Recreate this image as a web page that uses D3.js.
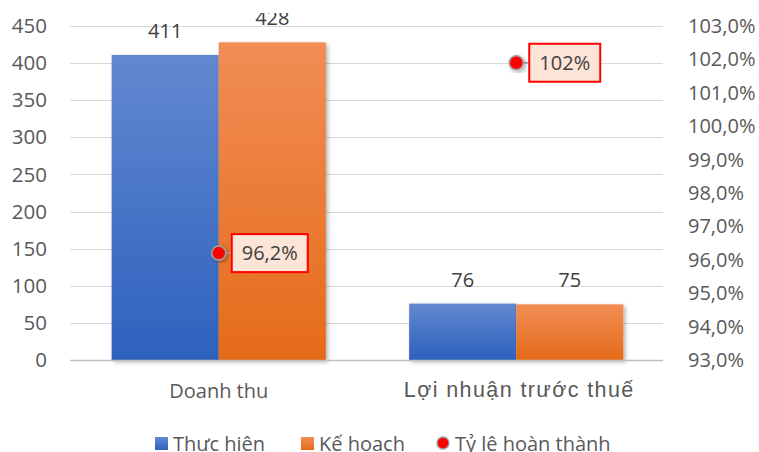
<!DOCTYPE html>
<html>
<head>
<meta charset="utf-8">
<script src="https://cdn.jsdelivr.net/npm/d3@7"></script>
<style>
  html, body { margin: 0; padding: 0; background: #fff; }
  svg { display: block; }
</style>
</head>
<body>
<svg id="chart" width="759" height="452"></svg>
<script>
// ---- data ----
const categories = ["Doanh thu", "Lợi nhuận trước thuế"];
const seriesNames = ["Thực hiện", "Kế hoạch"];
const thucHien = [411, 76];
const keHoach = [428, 75];
const tyLe = [96.2, 101.9];
const tyLeLabels = ["96,2%", "102%"];
const leftTicks = [0, 50, 100, 150, 200, 250, 300, 350, 400, 450];
const rightTicks = [93, 94, 95, 96, 97, 98, 99, 100, 101, 102, 103];
const lineName = "Tỷ lệ hoàn thành";

const svg = d3.select("#chart");
const W = 759, H = 452;
const plot = { left: 70, right: 665, top: 26, bottom: 360 };
const textColor = "#595959";
const font = "'Open Sans', 'Noto Sans', sans-serif";

const defs = svg.append("defs");
function grad(id, c1, c2) {
  const g = defs.append("linearGradient").attr("id", id)
    .attr("x1", 0).attr("y1", 0).attr("x2", 0).attr("y2", 1);
  g.append("stop").attr("offset", "0%").attr("stop-color", c1);
  g.append("stop").attr("offset", "100%").attr("stop-color", c2);
}
grad("gBlue", "#6388d1", "#2d61bd");
grad("gOrange", "#f18d55", "#e56b19");
const sh = defs.append("filter").attr("id", "shadow")
  .attr("x", "-20%").attr("y", "-20%").attr("width", "140%").attr("height", "140%");
sh.append("feDropShadow").attr("dx", 2).attr("dy", 2).attr("stdDeviation", 2)
  .attr("flood-color", "#000").attr("flood-opacity", 0.3);
defs.append("clipPath").attr("id", "topClip")
  .append("rect").attr("x", 0).attr("y", 13).attr("width", W).attr("height", H);

const yL = d3.scaleLinear().domain([0, 450]).range([plot.bottom, plot.top]);
const yR = d3.scaleLinear().domain([93, 103]).range([plot.bottom, plot.top]);
const x0 = d3.scaleBand().domain(categories).range([plot.left, plot.right])
  .paddingInner(0.28).paddingOuter(0.14);
const x1 = d3.scaleBand().domain(seriesNames).range([0, x0.bandwidth()]);
const fills = { "Thực hiện": "url(#gBlue)", "Kế hoạch": "url(#gOrange)" };

// gridlines
svg.append("g").selectAll("line").data(leftTicks).join("line")
  .attr("x1", plot.left).attr("x2", plot.right - 2)
  .attr("y1", d => Math.round(yL(d)) + 0.5).attr("y2", d => Math.round(yL(d)) + 0.5)
  .attr("stroke", "#d9d9d9").attr("stroke-width", 1.2);

// left axis
const axL = svg.append("g").attr("transform", `translate(${plot.left},0)`)
  .call(d3.axisLeft(yL).tickValues(leftTicks).tickSize(0).tickPadding(23));
axL.select(".domain").remove();
axL.selectAll("text").attr("font-family", font).attr("font-size", 20.5).attr("fill", textColor);

// right axis
const axR = svg.append("g").attr("transform", `translate(${plot.right + 23},0)`)
  .call(d3.axisRight(yR).tickValues(rightTicks).tickSize(0).tickPadding(0)
    .tickFormat(d => d.toFixed(1).replace(".", ",") + "%"));
axR.select(".domain").remove();
axR.selectAll("text").attr("font-family", font).attr("font-size", 20).attr("fill", textColor);

// bars
const rows = categories.map((c, i) => ({ cat: c, vals: [
  { s: seriesNames[0], v: thucHien[i] }, { s: seriesNames[1], v: keHoach[i] }] }));
const groups = svg.append("g").selectAll("g").data(rows).join("g")
  .attr("transform", d => `translate(${x0(d.cat)},0)`);
groups.selectAll("rect").data(d => d.vals).join("rect")
  .attr("x", d => x1(d.s)).attr("width", x1.bandwidth())
  .attr("y", d => yL(d.v)).attr("height", d => yL(0) - yL(d.v))
  .attr("fill", d => fills[d.s]).attr("filter", "url(#shadow)");

// axis baseline
svg.append("line").attr("x1", plot.left).attr("x2", plot.right - 2)
  .attr("y1", yL(0) + 0.5).attr("y2", yL(0) + 0.5)
  .attr("stroke", "#bfbfbf").attr("stroke-width", 1.5);

// bar labels
const lbl = svg.append("g").attr("clip-path", "url(#topClip)");
groups.each(function (d) {
  const gx = x0(d.cat);
  d.vals.forEach(v => {
    lbl.append("text")
      .attr("x", gx + x1(v.s) + x1.bandwidth() / 2)
      .attr("y", yL(v.v) - 17)
      .attr("text-anchor", "middle")
      .attr("font-family", font).attr("font-size", 20).attr("fill", "#404040")
      .text(v.v);
  });
});

// category labels
svg.append("text").attr("x", x0(categories[0]) + x0.bandwidth() / 2).attr("y", 398)
  .attr("text-anchor", "middle").attr("font-family", font).attr("font-size", 20)
  .attr("fill", textColor).text(categories[0]);
svg.append("text").attr("x", x0(categories[1]) + x0.bandwidth() / 2 + 3).attr("y", 397)
  .attr("text-anchor", "middle").attr("font-family", "'Liberation Sans', Arial, sans-serif")
  .attr("font-size", 21.5).attr("letter-spacing", 1.4)
  .attr("fill", textColor).text(categories[1]);

// completion-rate markers with callout labels
const pts = categories.map((c, i) => ({ cat: c, v: tyLe[i], lab: tyLeLabels[i] }));
const pg = svg.append("g");
pts.forEach((p, i) => {
  const cx = x0(p.cat) + x0.bandwidth() / 2;
  const cy = yR(p.v);
  const bw = i === 0 ? 76 : 71, bh = 38, off = 13;
  pg.append("line").attr("x1", cx).attr("x2", cx + off + 1).attr("y1", cy).attr("y2", cy)
    .attr("stroke", "#a6a6a6").attr("stroke-width", 1.5);
  pg.append("circle").attr("cx", cx).attr("cy", cy).attr("r", 7)
    .attr("fill", "#ff0000").attr("stroke", "#a0a0a0").attr("stroke-width", 1.5)
    .attr("filter", "url(#shadow)");
  pg.append("rect").attr("x", cx + off).attr("y", cy - bh / 2).attr("width", bw).attr("height", bh)
    .attr("fill", "#fce4d6").attr("stroke", "#ff0000").attr("stroke-width", 2);
  pg.append("text").attr("x", cx + off + bw / 2).attr("y", cy + 7)
    .attr("text-anchor", "middle").attr("font-family", font).attr("font-size", 20)
    .attr("fill", "#404040").text(p.lab);
});

// legend
const lg = svg.append("g").attr("font-family", font).attr("font-size", 20).attr("fill", textColor);
const legendItems = [
  { name: seriesNames[0], type: "rect", x: 155 },
  { name: seriesNames[1], type: "rect", x: 301 },
  { name: lineName, type: "circle", x: 437 }
];
legendItems.forEach(it => {
  if (it.type === "rect") {
    lg.append("rect").attr("x", it.x).attr("y", 437).attr("width", 13).attr("height", 13)
      .attr("fill", it.name === seriesNames[0] ? "url(#gBlue)" : "url(#gOrange)");
  } else {
    lg.append("circle").attr("cx", it.x + 6).attr("cy", 443).attr("r", 6)
      .attr("fill", "#ff0000").attr("stroke", "#a0a0a0").attr("stroke-width", 1.5);
  }
  lg.append("text").attr("x", it.x + 18).attr("y", 451).text(it.name);
});
</script>
</body>
</html>
